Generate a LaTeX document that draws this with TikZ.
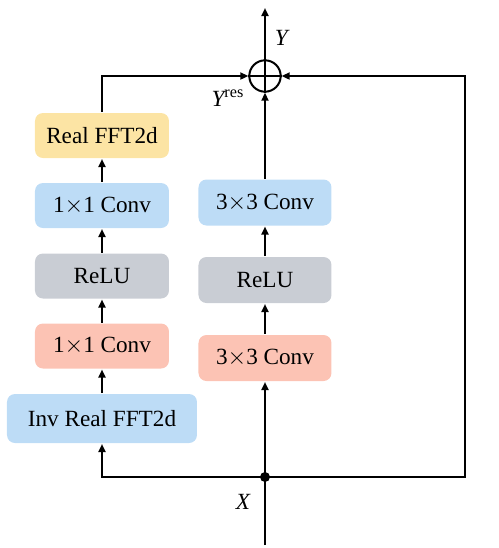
\documentclass[tikz,border=0pt]{standalone}
\usepackage{fontspec}
\setmainfont{Liberation Serif}
\usepackage{xcolor}
\usepackage{tikz}
\usetikzlibrary{arrows.meta}
\definecolor{fftyellow}{HTML}{FCE4A4}
\definecolor{convblue}{HTML}{BDDCF6}
\definecolor{relugray}{HTML}{C9CDD4}
\definecolor{convpink}{HTML}{FCC3B4}
\begin{document}
\begin{tikzpicture}[x=0.5pt, y=-0.5pt, line width=1pt,
    box/.style={rounded corners=4pt, inner sep=0pt, minimum width=67pt, minimum height=22.5pt, font=\fontsize{11.6}{14}\selectfont},
    flow/.style={-{Triangle[length=4pt,width=3.5pt]}},
    lbl/.style={font=\fontsize{11.6}{14}\selectfont\itshape, inner sep=0pt}]
    \useasboundingbox (0,0) rectangle (499,548);
                % left branch
                \node[box, fill=fftyellow] (rfft) at (102, 135.5) {Real FFT2d};
                \node[box, fill=convblue] (convone) at (102, 205.5) {1$\times$1 Conv};
                \node[box, fill=relugray] (reluone) at (102, 276) {ReLU};
                \node[box, fill=convpink] (convtwo) at (102, 346) {1$\times$1 Conv};
                \node[box, fill=convblue, minimum width=95pt, minimum height=24.5pt] (irfft) at (102, 418.5) {Inv Real FFT2d};
                % right branch
                \node[box, fill=convpink, minimum width=66.5pt, minimum height=23pt] (convthree) at (265, 358) {3$\times$3 Conv};
                \node[box, fill=relugray, minimum width=66.5pt, minimum height=23pt] (relutwo) at (265, 280) {ReLU};
                \node[box, fill=convblue, minimum width=66.5pt, minimum height=23pt] (convfour) at (265, 202.5) {3$\times$3 Conv};
                \node[draw, circle, minimum size=15.7pt, inner sep=0pt] (add) at (265, 76) {};
                \draw (add.north) -- (add.south) (add.west) -- (add.east);
                \coordinate (xin) at (265, 545);
                \coordinate (yout) at (265, 8);
                \coordinate (split) at (265, 477);
                \coordinate (skip) at (465, 477);
                \fill (split) circle (2.5pt);
                \draw (xin) -- (split);
                \draw[flow] (split) -- (convthree);
                \draw[flow] (convthree) -- (relutwo);
                \draw[flow] (relutwo) -- (convfour);
                \draw[flow] (convfour) -- (add);
                \draw[flow] (add) -- (yout);
                \draw[flow] (split) -| (irfft);
                \draw[flow] (irfft) -- (convtwo);
                \draw[flow] (convtwo) -- (reluone);
                \draw[flow] (reluone) -- (convone);
                \draw[flow] (convone) -- (rfft);
                \draw[flow] (rfft) |- (add);
                \draw[flow] (split) -- (skip) |- (add);
                \node[lbl, right] (ylbl) at (274, 38) {Y};
                \node[lbl] (yres) at (228, 98) {Y\textsuperscript{\upshape res}};
                \node[lbl] (xlbl) at (243, 502) {X};
            \end{tikzpicture}
\end{document}
